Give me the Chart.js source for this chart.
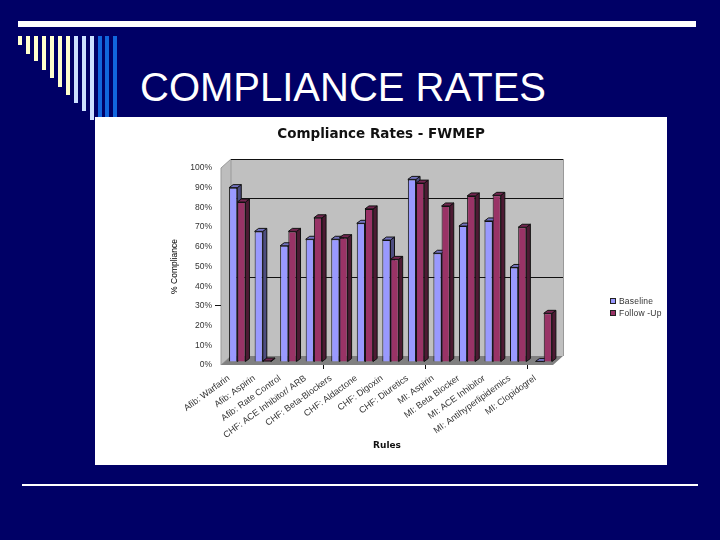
<!DOCTYPE html>
<html>
<head>
<meta charset="utf-8">
<style>
  * { margin: 0; padding: 0; box-sizing: border-box; }
  body { width: 720px; height: 540px; background: #000066; position: relative; overflow: hidden; }
  .bar { position: absolute; background: #fff; }
  .stripe { position: absolute; top: 36px; width: 4px; }
  #slideTitle {
    position: absolute; left: 140px; top: 65px;
    color: #fff; font: 40px "Liberation Sans", Arial, sans-serif; white-space: nowrap;
  }
  #panel { position: absolute; left: 95px; top: 117px; width: 572px; height: 348px; background: #fff; }
  #legend { position: absolute; left: 515px; top: 178px; font: 8.5px "Liberation Sans", Arial, sans-serif; color: #333; letter-spacing: 0.2px; }
  #legend div { height: 12px; line-height: 12px; white-space: nowrap; }
  #legend i { display: inline-block; width: 6px; height: 6px; border: 1px solid #222; margin-right: 3px; }
</style>
</head>
<body>
<div class="bar" style="left:18px;top:21px;width:678px;height:6px"></div>
<div class="bar" style="left:22px;top:484px;width:676px;height:2px"></div>
<div id="stripes"></div>
<div id="slideTitle">COMPLIANCE RATES</div>
<div id="panel">
  <canvas id="myChart" width="572" height="348"></canvas>
  <div id="legend"></div>
</div>

<script src="https://cdn.jsdelivr.net/npm/chart.js@4/dist/chart.umd.min.js"></script>
<script>
// data
const categories = [
  'Afib: Warfarin', 'Afib: Aspirin', 'Afib: Rate Control', 'CHF: ACE Inhibitor/ ARB',
  'CHF: Beta-Blockers', 'CHF: Aldactone', 'CHF: Digoxin', 'CHF: Diuretics',
  'MI: Aspirin', 'MI: Beta Blocker', 'MI: ACE Inhibitor', 'MI: Antihyperlipidemics', 'MI: Clopidogrel'
];
const baseline = [88.5, 66.3, 59, 62.3, 62.3, 70.4, 61.9, 92.7, 55.2, 69, 71.6, 48, 0.3];
const followUp = [81.2, 0.5, 66.3, 73.2, 63.1, 77.7, 52.1, 90.8, 79.2, 84.3, 84.6, 68.4, 24.7];
const seriesNames = ['Baseline', 'Follow -Up'];
const wallLines = [80, 40];

const seriesColors = ['#9999ff', '#993366'];
const sideColors = ['#4d4d80', '#4d1a33'];
const topColors = ['#7373bf', '#732650'];
const depthX = 10, depthY = 9;     // wall depth
const barDX = 3.5, barDY = -3;     // bars sit a bit behind the front edge
const sideX = 4, sideY = 3;        // bar thickness

// slide decoration
const stripeEnds = [45, 54, 61, 70, 78, 87, 95, 103, 111, 120, 117, 117, 117];
const stripeColors = ['#ffffcc','#ffffcc','#ffffcc','#ffffcc','#ffffcc','#ffffcc','#ffffcc','#cce0ff','#cce0ff','#cce0ff','#1166dd','#1166dd','#1166dd'];
stripeEnds.forEach((end, i) => {
  const s = document.createElement('div');
  s.className = 'stripe';
  s.style.left = (18 + i * 8 - (i > 10 ? 1 : 0)) + 'px';
  s.style.height = (end - 36) + 'px';
  s.style.background = stripeColors[i];
  document.getElementById('stripes').appendChild(s);
});

document.getElementById('legend').innerHTML = seriesNames.map((n, i) =>
  `<div><i style="background:${seriesColors[i]}"></i>${n}</div>`).join('');

function poly(ctx, pts, fill, stroke) {
  ctx.beginPath();
  pts.forEach((p, i) => i ? ctx.lineTo(p[0], p[1]) : ctx.moveTo(p[0], p[1]));
  ctx.closePath();
  ctx.fillStyle = fill;
  ctx.fill();
  if (stroke) { ctx.strokeStyle = stroke; ctx.lineWidth = 1; ctx.stroke(); }
}

const box3d = {
  id: 'box3d',
  afterLayout(chart) {
    // title is centred on the panel in the reference, not on the plot
    chart.titleBlock.left += 39;
  },
  beforeDraw(chart) {
    const { ctx, chartArea: a, scales } = chart;
    const l = a.left, r = a.right, t = a.top, b = a.bottom;
    ctx.save();
    poly(ctx, [[l + depthX, t - depthY], [r + depthX, t - depthY], [r + depthX, b - depthY], [l + depthX, b - depthY]], '#c0c0c0');
    poly(ctx, [[l, t], [l + depthX, t - depthY], [l + depthX, b - depthY], [l, b]], '#bdbdbd', '#999999');
    poly(ctx, [[l, b], [r, b], [r + depthX, b - depthY], [l + depthX, b - depthY]], '#808080');
    ctx.strokeStyle = '#111';
    ctx.lineWidth = 1;
    ctx.beginPath();
    ctx.moveTo(l + depthX, t - depthY + 0.5);
    ctx.lineTo(r + depthX, t - depthY + 0.5);
    wallLines.forEach(v => {
      const y = Math.round(scales.y.getPixelForValue(v) - depthY) + 0.5;
      ctx.moveTo(l + depthX, y);
      ctx.lineTo(r + depthX, y);
    });
    ctx.stroke();
    ctx.strokeStyle = '#999';
    ctx.beginPath();
    ctx.moveTo(r + depthX + 0.5, t - depthY);
    ctx.lineTo(r + depthX + 0.5, b - depthY);
    ctx.stroke();
    ctx.restore();
  },
  beforeDatasetsDraw(chart) {
    const { ctx } = chart;
    ctx.save();
    ctx.translate(barDX, barDY);
    chart.data.datasets.forEach((ds, d) => {
      chart.getDatasetMeta(d).data.forEach(bar => {
        const x0 = bar.x - bar.width / 2, x1 = bar.x + bar.width / 2;
        const y0 = bar.y, y1 = bar.base;
        poly(ctx, [[x1, y0], [x1 + sideX, y0 - sideY], [x1 + sideX, y1 - sideY], [x1, y1]], sideColors[d], '#111');
        poly(ctx, [[x0, y0], [x0 + sideX, y0 - sideY], [x1 + sideX, y0 - sideY], [x1, y0]], topColors[d], '#111');
      });
    });
    // the fronts get drawn by the chart, keep the shift until afterDatasetsDraw
  },
  afterDatasetsDraw(chart) {
    chart.ctx.restore();
  }
};

const labelFont = { family: '"Liberation Sans", Arial, sans-serif', size: 9 };

new Chart(document.getElementById('myChart'), {
  type: 'bar',
  data: {
    labels: categories,
    datasets: [
      { label: seriesNames[0], data: baseline, backgroundColor: seriesColors[0], borderColor: '#111', borderWidth: 1 },
      { label: seriesNames[1], data: followUp, backgroundColor: seriesColors[1], borderColor: '#111', borderWidth: 1 }
    ]
  },
  options: {
    responsive: false,
    animation: false,
    categoryPercentage: 0.64,
    barPercentage: 1,
    layout: { padding: { left: 75, right: 114, top: 0, bottom: 14 } },
    plugins: {
      legend: { display: false },
      tooltip: { enabled: false },
      title: {
        display: true,
        text: 'Compliance Rates - FWMEP',
        color: '#111',
        font: { family: '"DejaVu Sans", sans-serif', size: 13.5, weight: 'bold' },
        padding: { top: 9, bottom: 25.8 }
      }
    },
    scales: {
      x: {
        afterFit(scale) { scale.height = 86; },
        grid: {
          drawOnChartArea: false,
          tickLength: 4,
          tickColor: c => (c.index > 0 && c.index % 4 === 0) ? '#111' : 'transparent'
        },
        border: { display: false },
        ticks: { color: '#333', font: labelFont, minRotation: 36, maxRotation: 36, padding: 4, labelOffset: -5, autoSkip: false },
        title: { display: true, text: 'Rules', color: '#111', font: { family: '"DejaVu Sans", sans-serif', size: 9, weight: 'bold' }, padding: 0 }
      },
      y: {
        min: 0,
        max: 100,
        afterFit(scale) { scale.width = 51; },
        grid: {
          drawOnChartArea: false,
          tickLength: 6,
          tickColor: c => c.tick.value === 30 ? '#111' : 'transparent'
        },
        border: { display: false },
        ticks: { stepSize: 10, color: '#333', font: { family: labelFont.family, size: 8.5 }, padding: 3, callback: v => v + '%' },
        title: { display: true, text: '% Compliance', color: '#000', font: { family: labelFont.family, size: 8.5 }, padding: 0 }
      }
    }
  },
  plugins: [box3d]
});
</script>
</body>
</html>
